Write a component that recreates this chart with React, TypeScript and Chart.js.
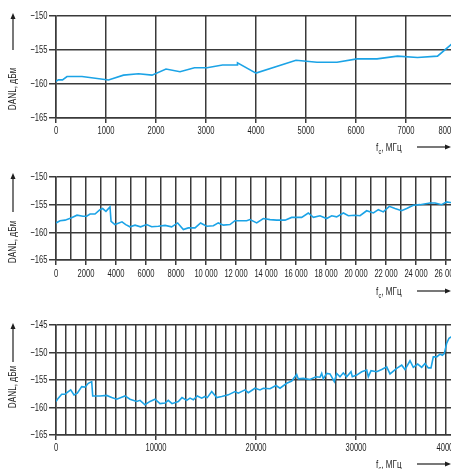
import React, { useEffect, useRef } from 'react';
import { Chart, registerables } from 'chart.js';

Chart.register(...registerables);

// ---------- data ----------
const freq1 = [0, 50, 130, 220, 520, 1050, 1350, 1650, 1920, 2200, 2480, 2770, 3020, 3330, 3620, 3630, 4000, 4800, 5220, 5620, 6020, 6420, 6830, 7230, 7630, 8000];
const danl1 = [-159.6, -159.4, -159.4, -158.9, -158.9, -159.4, -158.7, -158.5, -158.7, -157.8, -158.2, -157.6, -157.6, -157.2, -157.2, -156.9, -158.4, -156.5, -156.8, -156.8, -156.3, -156.3, -155.9, -156.1, -155.9, -153.6];

const freq2 = [0, 270, 600, 1000, 1400, 1800, 2040, 2270, 2600, 2930, 3110, 3330, 3600, 3670, 3930, 4400, 4650, 4930, 5270, 5640, 6040, 6380, 6820, 7270, 7710, 8110, 8490, 8820, 9270, 9640, 10040, 10490, 10820, 11160, 11600, 11930, 12270, 12710, 12930, 13380, 13820, 14270, 14710, 15270, 15710, 16380, 16820, 17160, 17600, 18040, 18380, 18710, 19160, 19490, 19930, 20270, 20710, 21160, 21490, 21820, 22220, 22600, 23040, 23380, 23820, 24270, 24930, 25270, 25710, 26040, 26270, 26667];
const danl2 = [-158.3, -157.9, -157.8, -157.4, -156.9, -157.1, -157.1, -156.7, -156.7, -155.9, -155.7, -156.2, -155.4, -158.0, -158.6, -158.1, -158.6, -159.0, -158.7, -159.0, -158.6, -159.0, -158.9, -158.75, -159.0, -158.3, -159.5, -159.2, -159.2, -158.3, -158.9, -158.8, -158.3, -158.7, -158.6, -157.9, -157.9, -157.9, -157.7, -158.3, -157.5, -157.7, -157.8, -157.8, -157.3, -157.3, -156.5, -157.3, -157.0, -157.5, -157.0, -157.2, -156.5, -157.0, -156.9, -157.0, -156.1, -156.5, -155.9, -156.3, -155.3, -155.7, -156.1, -155.7, -155.1, -155.0, -154.7, -154.7, -155.0, -154.5, -154.6, -154.6];

const freq3 = [0, 230, 570, 900, 1230, 1470, 1800, 2130, 2570, 2900, 3230, 3570, 3670, 4400, 5070, 5570, 6070, 6900, 7400, 8070, 8400, 8900, 9400, 9900, 10400, 10900, 11230, 11600, 12230, 12600, 13070, 13400, 13730, 14130, 14570, 14900, 15130, 15570, 16070, 16570, 17230, 17900, 18230, 18900, 19230, 19900, 20400, 20730, 21400, 22000, 22400, 23070, 23570, 24070, 24230, 24730, 25400, 26000, 26400, 26570, 26730, 27070, 27400, 27830, 28070, 28400, 28730, 29070, 29500, 29630, 30070, 30570, 31070, 31230, 31500, 32070, 32570, 33070, 33400, 34070, 34570, 34900, 35400, 35730, 36170, 36570, 36900, 37230, 37500, 37730, 38070, 38400, 38630, 38830, 39070, 39300, 39500, 40000];
const danl3 = [-158.9, -158.3, -157.6, -157.6, -157.1, -156.8, -157.7, -157.4, -156.2, -156.3, -155.6, -155.3, -157.9, -157.9, -157.8, -158.2, -158.5, -157.9, -158.5, -158.9, -158.7, -159.5, -158.9, -158.5, -159.3, -159.2, -158.7, -159.3, -158.9, -158.2, -158.7, -158.3, -158.6, -157.9, -158.3, -158.0, -158.2, -157.1, -158.2, -158.0, -157.7, -157.1, -157.4, -156.8, -157.3, -156.5, -156.8, -156.5, -156.6, -156.0, -156.5, -155.6, -155.2, -154.0, -154.8, -154.7, -154.9, -154.4, -154.5, -153.8, -154.8, -153.8, -153.9, -155.3, -153.8, -154.4, -153.7, -154.4, -153.5, -154.4, -154.1, -153.5, -153.2, -154.4, -153.3, -153.5, -153.1, -152.6, -153.9, -152.9, -152.3, -153.1, -151.5, -152.7, -152.1, -152.7, -152.0, -152.8, -152.8, -150.8, -150.8, -150.3, -150.5, -150.2, -148.3, -147.4, -147.2, -147.0];

const xMax1 = 8000;
const xMax2 = 26667;
const xMax3 = 40000;
const xTickStep = 1000;
const xLabelEvery1 = 1000;
const xLabelEvery2 = 2000;
const xLabelEvery3 = 10000;
const yRange1 = [-165, -150];
const yRange2 = [-165, -150];
const yRange3 = [-165, -145];
const yStep = 5;

const Y_TITLE = 'DANL, дБм';
const X_TITLE_MAIN = 'f';
const X_TITLE_SUB = 'c';
const X_TITLE_REST = ', МГц';

// ---------- styles ----------
const FONT = "'Liberation Sans', Arial, sans-serif";
const FONT_SIZE = 11.5;
const SX = 0.66; // horizontal condensing of the text
const TEXT = '#1e1e1e';
const GRID = '#3a3a3a';
const LINE = '#1ba3e6';
const CANVAS_W = 480;
const PLOT_LEFT = 56;
const PLOT_RIGHT = 456;

function narrowText(ctx: CanvasRenderingContext2D, text: string, x: number, y: number, align: CanvasTextAlign, size = FONT_SIZE, sx = SX) {
  ctx.save();
  ctx.translate(x, y);
  ctx.scale(sx, 1);
  ctx.font = `${size}px ${FONT}`;
  ctx.textAlign = align;
  ctx.textBaseline = 'middle';
  ctx.fillText(text, 0, 0);
  ctx.restore();
}

function fmtX(v: number, spaced: boolean) {
  if (spaced && v >= 10000) {
    const s = String(v);
    return s.slice(0, s.length - 3) + ' ' + s.slice(s.length - 3);
  }
  return String(v);
}

const decorPlugin = {
  id: 'decor',
  afterDraw(chart: any, _args: any, o: any) {
    const ctx = chart.ctx as CanvasRenderingContext2D;
    const area = chart.chartArea;
    ctx.save();
    ctx.fillStyle = TEXT;
    ctx.strokeStyle = TEXT;

    // tick labels, from the library's scales
    const xs = chart.scales.x;
    xs.ticks.forEach((t: any) => {
      if (t.value % o.labelEvery !== 0) return;
      let px = xs.getPixelForValue(t.value);
      if (t.value === xs.max) px -= o.lastShift;
      narrowText(ctx, fmtX(t.value, o.spaced), px, area.bottom + o.xLabelGap, 'center');
    });
    const ys = chart.scales.y;
    ys.ticks.forEach((t: any) => {
      narrowText(ctx, '\u2212' + Math.abs(t.value), PLOT_LEFT - 8.5, ys.getPixelForValue(t.value), 'right');
    });

    // y title
    ctx.save();
    ctx.translate(o.yTitleX, o.yTitleY);
    ctx.rotate(-Math.PI / 2);
    narrowText(ctx, Y_TITLE, 0, 0, 'center', 11.5, 0.72);
    ctx.restore();
    // y arrow
    ctx.lineWidth = 1.2;
    ctx.beginPath();
    ctx.moveTo(o.yTitleX, o.yArrowBottom);
    ctx.lineTo(o.yTitleX, o.yArrowTop + 5);
    ctx.stroke();
    ctx.beginPath();
    ctx.moveTo(o.yTitleX, o.yArrowTop);
    ctx.lineTo(o.yTitleX - 2.5, o.yArrowTop + 6);
    ctx.lineTo(o.yTitleX + 2.5, o.yArrowTop + 6);
    ctx.closePath();
    ctx.fill();

    // x title: f with subscript c
    ctx.save();
    ctx.translate(o.xTitleX, o.xTitleY);
    ctx.scale(0.7, 1);
    ctx.textAlign = 'left';
    ctx.textBaseline = 'middle';
    ctx.font = `11.5px ${FONT}`;
    let x = 0;
    ctx.fillText(X_TITLE_MAIN, x, 0);
    x += ctx.measureText(X_TITLE_MAIN).width + 0.5;
    ctx.font = `8px ${FONT}`;
    ctx.fillText(X_TITLE_SUB, x, 3.5);
    x += ctx.measureText(X_TITLE_SUB).width;
    ctx.font = `11.5px ${FONT}`;
    ctx.fillText(X_TITLE_REST, x, 0);
    ctx.restore();

    // x arrow
    ctx.beginPath();
    ctx.moveTo(o.xArrowX1, o.xArrowY);
    ctx.lineTo(o.xArrowX2 - 5, o.xArrowY);
    ctx.stroke();
    ctx.beginPath();
    ctx.moveTo(o.xArrowX2, o.xArrowY);
    ctx.lineTo(o.xArrowX2 - 6, o.xArrowY - 2.5);
    ctx.lineTo(o.xArrowX2 - 6, o.xArrowY + 2.5);
    ctx.closePath();
    ctx.fill();
    ctx.restore();
  },
};

function makeConfig(p: {
  freq: number[]; danl: number[]; xMax: number; labelEvery: number; spaced: boolean;
  yRange: number[]; height: number; top: number; bottom: number; decor: any;
}) {
  const xTicks: number[] = [];
  for (let v = 0; v <= p.xMax; v += xTickStep) xTicks.push(v);
  const yTicks: number[] = [];
  for (let v = p.yRange[0]; v <= p.yRange[1]; v += yStep) yTicks.push(v);
  const isLabeled = (v: number) => v % p.labelEvery === 0;
  return {
    type: 'line',
    data: {
      datasets: [{
        data: p.freq.map((f, i) => ({ x: f, y: p.danl[i] })),
        borderColor: LINE,
        borderWidth: 1.6,
        pointRadius: 0,
        tension: 0,
        fill: false,
      }],
    },
    options: {
      animation: false,
      responsive: false,
      maintainAspectRatio: false,
      devicePixelRatio: 1,
      layout: { padding: { top: p.top, left: 0, right: CANVAS_W - PLOT_RIGHT, bottom: 0 } },
      plugins: {
        legend: { display: false },
        tooltip: { enabled: false },
        decor: { ...p.decor, labelEvery: p.labelEvery, spaced: p.spaced },
      },
      scales: {
        x: {
          type: 'linear',
          min: 0,
          max: p.xMax,
          afterBuildTicks: (s: any) => { s.ticks = xTicks.map((v) => ({ value: v })); },
          afterFit: (s: any) => { s.height = p.height - p.bottom; },
          grid: {
            color: GRID,
            lineWidth: 1.5,
            tickLength: 5,
            tickColor: (c: any) => (c.tick && isLabeled(c.tick.value) ? GRID : 'rgba(0,0,0,0)'),
          },
          border: { display: true, color: GRID, width: 1.5 },
          ticks: { display: false, autoSkip: false, maxRotation: 0 },
        },
        y: {
          type: 'linear',
          min: p.yRange[0],
          max: p.yRange[1],
          afterBuildTicks: (s: any) => { s.ticks = yTicks.map((v) => ({ value: v })); },
          afterFit: (s: any) => { s.width = PLOT_LEFT; },
          grid: { color: GRID, lineWidth: 1.5, tickLength: 7, tickColor: GRID },
          border: { display: true, color: GRID, width: 1.5 },
          ticks: { display: false },
        },
      },
    },
    plugins: [decorPlugin],
  };
}

function Panel(props: { cfg: any; top: number; height: number }) {
  const ref = useRef<HTMLCanvasElement>(null);
  useEffect(() => {
    const chart = new Chart(ref.current as HTMLCanvasElement, props.cfg);
    return () => chart.destroy();
  }, []);
  return (
    <canvas
      ref={ref}
      width={CANVAS_W}
      height={props.height}
      style={{ position: 'absolute', left: 0, top: props.top, width: CANVAS_W, height: props.height }}
    />
  );
}

export default function App() {
  const h1 = 158, h2 = 152, h3 = 159;
  const cfg1 = makeConfig({
    freq: freq1, danl: danl1, xMax: xMax1, labelEvery: xLabelEvery1, spaced: false,
    yRange: yRange1, height: h1, top: 16, bottom: 118,
    decor: { xLabelGap: 13, lastShift: 9, yTitleX: 13, yTitleY: 89, yArrowTop: 13, yArrowBottom: 50, xTitleX: 376, xTitleY: 148, xArrowX1: 417, xArrowX2: 451, xArrowY: 147 },
  });
  const cfg2 = makeConfig({
    freq: freq2, danl: danl2, xMax: xMax2, labelEvery: xLabelEvery2, spaced: true,
    yRange: yRange2, height: h2, top: 19, bottom: 102,
    decor: { xLabelGap: 13.5, lastShift: 0, yTitleX: 13, yTitleY: 84, yArrowTop: 15, yArrowBottom: 54, xTitleX: 376, xTitleY: 134, xArrowX1: 417, xArrowX2: 451, xArrowY: 133 },
  });
  const cfg3 = makeConfig({
    freq: freq3, danl: danl3, xMax: xMax3, labelEvery: xLabelEvery3, spaced: false,
    yRange: yRange3, height: h3, top: 15, bottom: 125,
    decor: { xLabelGap: 13, lastShift: 9, yTitleX: 13, yTitleY: 77, yArrowTop: 13, yArrowBottom: 52, xTitleX: 376, xTitleY: 155, xArrowX1: 417, xArrowX2: 451, xArrowY: 154 },
  });
  return (
    <div style={{ position: 'fixed', left: 0, top: 0, width: 451, height: 469, overflow: 'hidden', background: '#fff' }}>
      <Panel cfg={cfg1} top={0} height={h1} />
      <Panel cfg={cfg2} top={158} height={h2} />
      <Panel cfg={cfg3} top={310} height={h3} />
    </div>
  );
}
